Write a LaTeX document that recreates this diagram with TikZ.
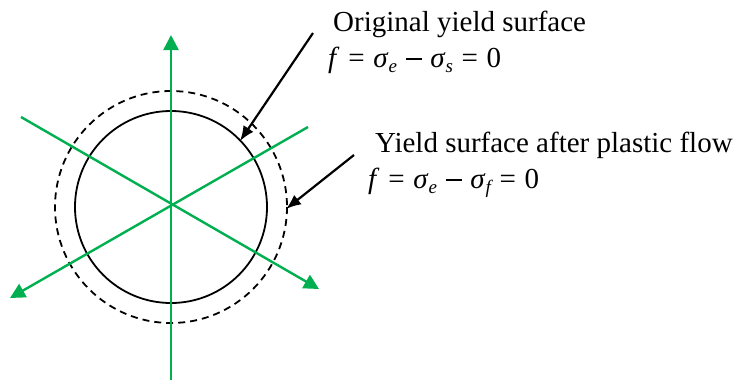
\documentclass[tikz,border=0pt]{standalone}
\usepackage{fontspec}
\setmainfont{Liberation Serif}
\usetikzlibrary{arrows.meta}
\definecolor{axisgreen}{RGB}{0,176,80}
\newcommand\mysub[1]{\raisebox{-0.2em}{\fontsize{19}{19}\selectfont\itshape #1}}
\newcommand\eqsp{\hspace{0.3em}}
\newcommand\mymin{\rule[0.25em]{0.55em}{0.045em}}
\begin{document}
\begin{tikzpicture}[x=1pt,y=-1pt,
  axis/.style={draw=axisgreen,line width=2.4pt,-{Triangle[length=15pt,width=15pt]}},
  pointer/.style={draw=black,line width=2.2pt,-{Latex[length=15pt,width=12pt]}},
  lbl/.style={anchor=base west,inner sep=0pt,font=\fontsize{29}{34}\selectfont}]
\useasboundingbox (0,0) rectangle (738,381);
\coordinate (O) at (171,207);
% circles
\draw[line width=1.8pt] (O) circle[radius=96];
\draw[line width=1.8pt,dash pattern=on 7pt off 5pt] (O) circle[radius=116];
% green axes
\coordinate (vb) at (171,380);
\coordinate (vt) at (171,35);
\coordinate (ul) at (21,117);
\coordinate (lr) at (319,289);
\coordinate (ur) at (308,127);
\coordinate (ll) at (10,298);
\draw[axis] (vb) -- (vt);
\draw[axis] (ul) -- (lr);
\draw[axis] (ur) -- (ll);
% labels
\node[lbl] (t1) at (333,31) {Original yield surface};
\node[lbl] (e1) at (328,67) {\itshape f\/\upshape\eqsp=\eqsp\itshape σ\/\mysub{e}\upshape\eqsp\mymin\eqsp\itshape σ\/\mysub{s}\upshape\eqsp=\eqsp0};
\node[lbl] (t2) at (375,152) {Yield surface after plastic flow};
\node[lbl] (e2) at (368,188) {\itshape f\/\upshape\eqsp=\eqsp\itshape σ\/\mysub{e}\upshape\eqsp\mymin\eqsp\itshape σ\/\mysub{f}\upshape\eqsp=\eqsp0};
% pointers
\coordinate (p1s) at (313,33);
\coordinate (p1e) at (240,141);
\coordinate (p2s) at (354,155);
\coordinate (p2e) at (286,209);
\draw[pointer] (p1s) -- (p1e);
\draw[pointer] (p2s) -- (p2e);
\end{tikzpicture}
\end{document}
